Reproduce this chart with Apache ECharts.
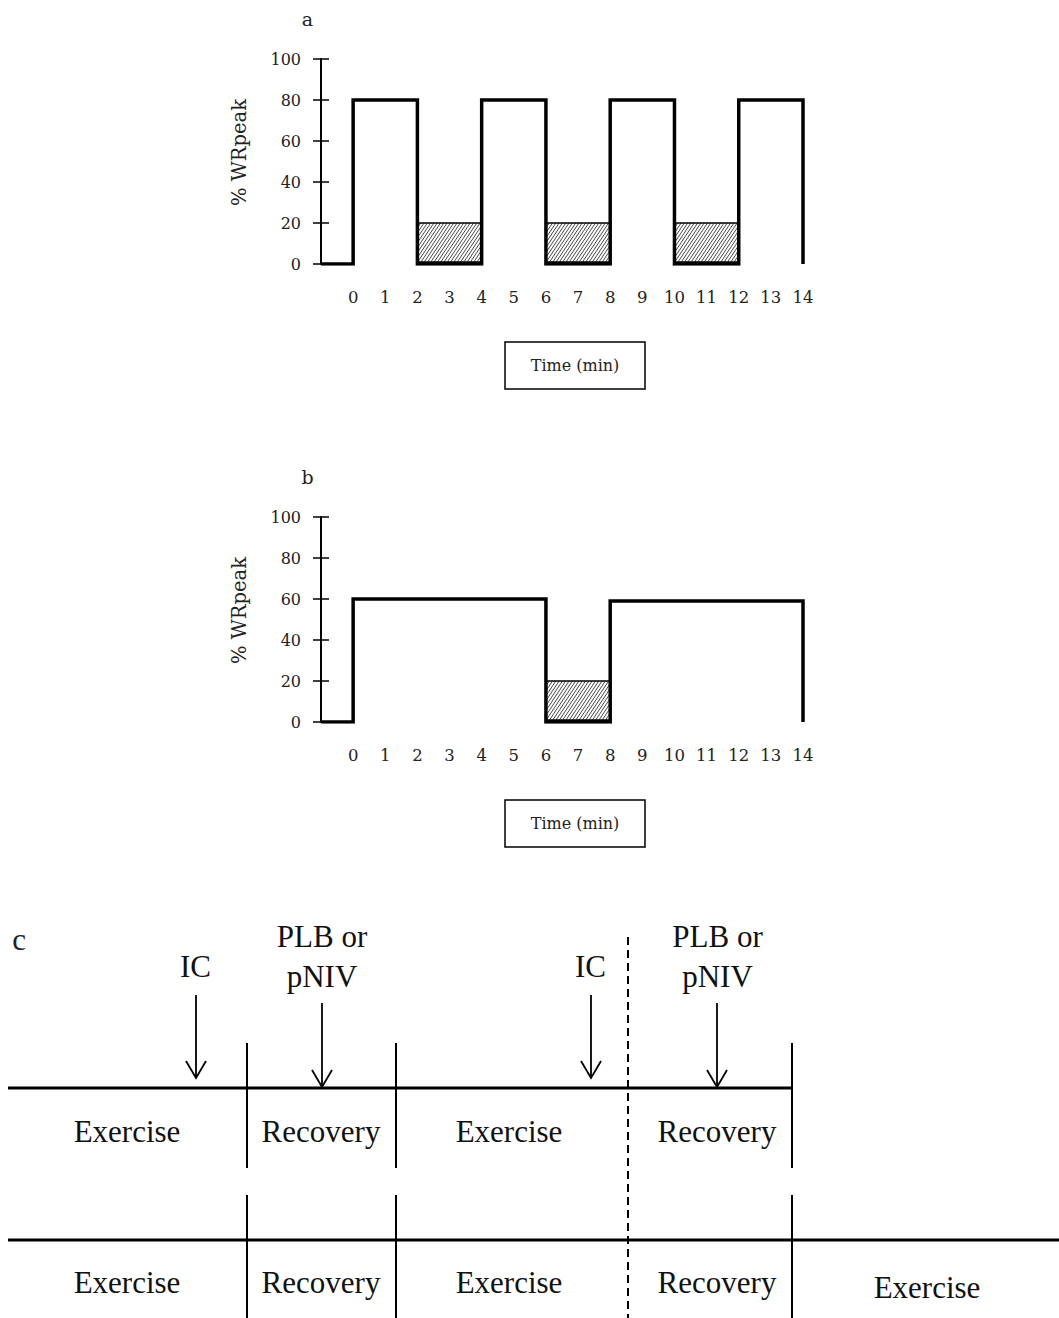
<!DOCTYPE html>
<html>
<head>
<meta charset="utf-8">
<script src="https://cdn.jsdelivr.net/npm/echarts/dist/echarts.min.js"></script>
<style>
  html, body { margin: 0; padding: 0; background: #fff; }
  #chart { width: 1059px; height: 1318px; }
</style>
</head>
<body>
<div id="chart"></div>
<script>
// Minute ticks shown under both interval panels
const minuteTicks = [0, 1, 2, 3, 4, 5, 6, 7, 8, 9, 10, 11, 12, 13, 14];
// Workload scale (% of peak work rate)
const workloadTicks = [0, 20, 40, 60, 80, 100];

// Panel a: interval session, each entry is [start min, end min, % WRpeak]
const intervalWork = [[0, 2, 80], [4, 6, 80], [8, 10, 80], [12, 14, 80]];
const intervalRecovery = [[2, 4, 20], [6, 8, 20], [10, 12, 20]];

// Panel b: continuous session with a single recovery bout
const continuousWork = [[0, 6, 60], [8, 14, 59]];
const continuousRecovery = [[6, 8, 20]];

// Panel c: session timeline in schematic time units
const rowLevels = [16.8, 32.0];          // horizontal timeline of each row
const rowEnds = [78.4, 105.1];           // where each timeline stops
const phaseEdges = [23.9, 38.8, 78.4];   // exercise / recovery boundaries
const edgeSpans = [[12.3, 24.8], [27.5, 39.8]];
const switchEdge = 62.0;                 // dashed boundary
const switchSpan = [1.7, 39.8];
// measurement arrows: [time, arrow start, arrow tip]
const markerArrows = [[18.8, 7.5, 15.8], [31.4, 8.3, 16.7], [58.3, 7.5, 15.8], [70.9, 8.3, 16.7]];
const markerText = [
  ['IC', 18.75, 4.65], ['PLB or', 31.4, 1.65], ['pNIV', 31.4, 5.65],
  ['IC', 58.25, 4.65], ['PLB or', 70.95, 1.65], ['pNIV', 70.95, 5.65]
];
const phaseText = [
  ['Exercise', 11.9, 21.15], ['Recovery', 31.3, 21.15], ['Exercise', 50.1, 21.15], ['Recovery', 70.9, 21.15],
  ['Exercise', 11.9, 36.25], ['Recovery', 31.3, 36.25], ['Exercise', 50.1, 36.25], ['Recovery', 70.9, 36.25],
  ['Exercise', 91.9, 36.75]
];

// ---- helpers ----
const SERIF_AB = 'DejaVu Serif';
const SERIF_C = 'Liberation Serif';

// Outline of the work bouts as one stepped path along the baseline
function workProfile(work) {
  const pts = [[minuteTicks[0] - 1, 0]];
  work.forEach(([s, e, v]) => { pts.push([s, 0], [s, v], [e, v], [e, 0]); });
  return pts;
}

// Hatched recovery block
function renderRecovery(params, api) {
  const tl = api.coord([api.value(0), api.value(2)]);
  const br = api.coord([api.value(1), 0]);
  const x0 = tl[0], yt = tl[1], x1 = br[0], yb = br[1];
  const children = [{
    type: 'rect', shape: { x: x0, y: yt, width: x1 - x0, height: yb - yt },
    style: { fill: '#fff', stroke: null }
  }];
  const m = 0.67, step = 3.3;
  for (let c = x0 + m * yt; c <= x1 + m * yb; c += step) {
    const ya = Math.max(yt, (c - x1) / m);
    const yz = Math.min(yb, (c - x0) / m);
    if (yz > ya) {
      children.push({
        type: 'line', shape: { x1: c - m * ya, y1: ya, x2: c - m * yz, y2: yz },
        style: { stroke: '#333', lineWidth: 0.9 }
      });
    }
  }
  children.push({
    type: 'rect', shape: { x: x0, y: yt, width: x1 - x0, height: yb - yt },
    style: { fill: null, stroke: '#000', lineWidth: 1.6 }
  });
  children.push({
    type: 'line', shape: { x1: x0, y1: yb - 1.2, x2: x1, y2: yb - 1.2 },
    style: { stroke: '#000', lineWidth: 3 }
  });
  return { type: 'group', children };
}

function minuteAxis(gridIndex) {
  return {
    type: 'value', gridIndex, min: minuteTicks[0] - 1, max: minuteTicks[minuteTicks.length - 1], interval: 1,
    axisLine: { show: false, onZero: false }, axisTick: { show: false }, splitLine: { show: false },
    axisLabel: {
      margin: 25, fontFamily: SERIF_AB, fontSize: 16.5, color: '#222',
      formatter: v => (minuteTicks.indexOf(v) >= 0 ? String(v) : '')
    }
  };
}
function workloadAxis(gridIndex, inner) {
  return {
    type: 'value', gridIndex, position: 'left',
    min: workloadTicks[0], max: workloadTicks[workloadTicks.length - 1], interval: 20,
    name: inner ? '' : '% WRpeak', nameLocation: 'middle', nameRotate: 90, nameGap: 72,
    nameTextStyle: { fontFamily: SERIF_AB, fontSize: 19.5, color: '#222', padding: [0, 0, 0, 18] },
    axisLine: { show: !inner, onZero: false, lineStyle: { color: '#000', width: 2 } },
    axisTick: { show: true, inside: !!inner, length: 8, lineStyle: { color: '#000', width: 1.5 } },
    axisLabel: { show: !inner, margin: 20, fontFamily: SERIF_AB, fontSize: 16, color: '#222' },
    splitLine: { show: false }
  };
}

// Panel c segments: [x0, y0, x1, y1, kind] kind 0 = timeline, 1 = boundary, 2 = dashed
const segments = [];
rowLevels.forEach((y, i) => segments.push([0, y, rowEnds[i], y, 0]));
phaseEdges.forEach(x => edgeSpans.forEach(([a, b]) => segments.push([x, a, x, b, 1])));
segments.push([switchEdge, switchSpan[0], switchEdge, switchSpan[1], 2]);

function renderSegment(params, api) {
  const a = api.coord([api.value(0), api.value(1)]);
  const b = api.coord([api.value(2), api.value(3)]);
  const kind = api.value(4);
  return {
    type: 'line', shape: { x1: a[0], y1: a[1], x2: b[0], y2: b[1] },
    style: { stroke: '#000', lineWidth: kind === 0 ? 3 : 2, lineDash: kind === 2 ? [8, 5] : null }
  };
}
function renderArrow(params, api) {
  const a = api.coord([api.value(0), api.value(1)]);
  const t = api.coord([api.value(0), api.value(2)]);
  return {
    type: 'group', children: [
      { type: 'line', shape: { x1: a[0], y1: a[1], x2: t[0], y2: t[1] }, style: { stroke: '#000', lineWidth: 1.8 } },
      { type: 'polyline', shape: { points: [[t[0] - 10, t[1] - 17], [t[0], t[1]], [t[0] + 10, t[1] - 17]] },
        style: { stroke: '#000', lineWidth: 1.8, fill: null } }
    ]
  };
}
function textRenderer(list) {
  return function (params, api) {
    const item = list[params.dataIndex];
    const p = api.coord([item[1], item[2]]);
    return {
      type: 'text', x: p[0], y: p[1],
      style: { text: item[0], font: '31px "' + SERIF_C + '"', fill: '#111', align: 'center', verticalAlign: 'middle' }
    };
  };
}
function panelLetter(text, x, y, font) {
  return { type: 'text', x, y, style: { text, font, fill: '#222', align: 'center', verticalAlign: 'middle' } };
}
function timeBox(top) {
  return [
    { type: 'rect', shape: { x: 505, y: top, width: 140, height: 47 }, style: { fill: '#fff', stroke: '#000', lineWidth: 1.5 } },
    { type: 'text', x: 575, y: top + 23.5, style: { text: 'Time (min)', font: '16px "' + SERIF_AB + '"', fill: '#222', align: 'center', verticalAlign: 'middle' } }
  ];
}

const gridCommon = { left: 321, width: 482, height: 205, outerBoundsMode: 'none', containLabel: false };

const option = {
  animation: false,
  backgroundColor: '#fff',
  grid: [
    Object.assign({ top: 59 }, gridCommon),
    Object.assign({ top: 517 }, gridCommon),
    { left: 8, width: 1051, top: 920, height: 398, outerBoundsMode: 'none', containLabel: false }
  ],
  xAxis: [
    minuteAxis(0),
    minuteAxis(1),
    { type: 'value', gridIndex: 2, min: 0, max: rowEnds[1], show: false }
  ],
  yAxis: [
    workloadAxis(0, false),
    workloadAxis(0, true),
    workloadAxis(1, false),
    workloadAxis(1, true),
    { type: 'value', gridIndex: 2, min: 0, max: switchSpan[1], inverse: true, show: false }
  ],
  graphic: [
    panelLetter('a', 307.5, 19, '19px "' + SERIF_AB + '"'),
    panelLetter('b', 307.5, 477, '19px "' + SERIF_AB + '"'),
    panelLetter('c', 19, 939, '31px "' + SERIF_C + '"')
  ].concat(timeBox(342), timeBox(800)),
  series: [
    { type: 'custom', xAxisIndex: 0, yAxisIndex: 0, z: 1, data: intervalRecovery,
      encode: { x: [0, 1], y: 2 }, renderItem: renderRecovery },
    { type: 'line', xAxisIndex: 0, yAxisIndex: 0, z: 3, data: workProfile(intervalWork),
      showSymbol: false, symbol: 'none', lineStyle: { color: '#000', width: 3.5, join: 'miter', cap: 'butt' } },
    { type: 'custom', xAxisIndex: 1, yAxisIndex: 2, z: 1, data: continuousRecovery,
      encode: { x: [0, 1], y: 2 }, renderItem: renderRecovery },
    { type: 'line', xAxisIndex: 1, yAxisIndex: 2, z: 3, data: workProfile(continuousWork),
      showSymbol: false, symbol: 'none', lineStyle: { color: '#000', width: 3.5, join: 'miter', cap: 'butt' } },
    { type: 'custom', xAxisIndex: 2, yAxisIndex: 4, data: segments,
      encode: { x: [0, 2], y: [1, 3] }, renderItem: renderSegment },
    { type: 'custom', xAxisIndex: 2, yAxisIndex: 4, data: markerArrows,
      encode: { x: 0, y: [1, 2] }, renderItem: renderArrow },
    { type: 'custom', xAxisIndex: 2, yAxisIndex: 4, data: markerText.map(d => [d[1], d[2]]),
      encode: { x: 0, y: 1 }, renderItem: textRenderer(markerText) },
    { type: 'custom', xAxisIndex: 2, yAxisIndex: 4, data: phaseText.map(d => [d[1], d[2]]),
      encode: { x: 0, y: 1 }, renderItem: textRenderer(phaseText) }
  ]
};

const chart = echarts.init(document.getElementById('chart'), null, { renderer: 'svg' });
chart.setOption(option);
</script>
</body>
</html>
